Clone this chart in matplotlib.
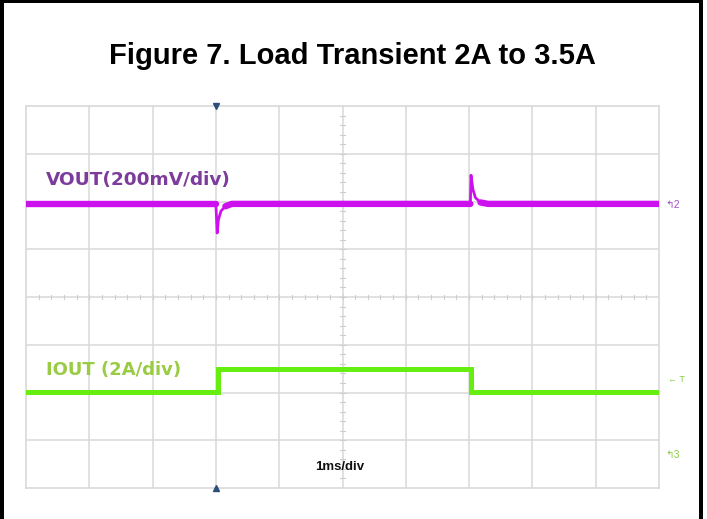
import matplotlib
matplotlib.use("Agg")
import matplotlib.pyplot as plt
from matplotlib.patches import Rectangle
import numpy as np

plt.rcParams['font.family'] = ['Liberation Sans', 'DejaVu Sans']

# ---- data (time in ms = divisions, amplitude in screen divisions) ----
vout_t = [0.0, 3.00, 3.02, 3.04, 3.08, 3.15, 3.25, 7.02, 7.03, 7.06, 7.10, 7.18, 7.30, 10.0]
vout_y = [5.95, 5.95, 5.34, 5.62, 5.80, 5.90, 5.95, 5.95, 6.55, 6.25, 6.08, 5.98, 5.95, 5.95]

iout_t = [0.0, 3.03, 3.03, 7.03, 7.03, 10.0]
iout_y = [2.02, 2.02, 2.50, 2.50, 2.02, 2.02]

title = "Figure 7. Load Transient 2A to 3.5A"
vout_label = "VOUT(200mV/div)"
iout_label = "IOUT (2A/div)"
time_label = "1ms/div"

W, H = 707, 519
fig = plt.figure(figsize=(W / 100, H / 100), dpi=100)

# black frame (left, right, top)
fig.add_artist(Rectangle((0, 0), 4 / W, 1, transform=fig.transFigure, color='black', lw=0))
fig.add_artist(Rectangle((699 / W, 0), 4 / W, 1, transform=fig.transFigure, color='black', lw=0))
fig.add_artist(Rectangle((0, 1 - 3 / H), 703 / W, 3 / H, transform=fig.transFigure, color='black', lw=0))

fig.text(352 / W, 1 - 56 / H, title, ha='center', va='center', fontsize=21, fontweight='bold')

ax = fig.add_axes([26 / W, 1 - 488 / H, (659 - 26) / W, (488 - 106) / H])
ax.set_xlim(0, 10)
ax.set_ylim(0, 8)
ax.set_xticks([])
ax.set_yticks([])
grid_c = '#d9d9d9'
for s in ax.spines.values():
    s.set_color(grid_c)
    s.set_linewidth(1.2)
for x in range(1, 10):
    ax.axvline(x, color=grid_c, lw=1.1, zorder=1)
for y in range(1, 8):
    ax.axhline(y, color=grid_c, lw=1.1, zorder=1)

# centre crosshair minor ticks
tick_c = '#cdcdcd'
for x in np.arange(0.2, 10, 0.2):
    ax.plot([x, x], [4 - 0.05, 4 + 0.05], color=tick_c, lw=0.8, zorder=1)
for y in np.arange(0.2, 8, 0.2):
    ax.plot([5 - 0.035, 5 + 0.035], [y, y], color=tick_c, lw=0.8, zorder=1)

# traces: thin transient edges plus thick noisy-looking baseline band
vc = '#cc10ee'
ax.plot(vout_t, vout_y, color=vc, lw=2.0, solid_joinstyle='round', solid_capstyle='round', zorder=3)
for a, b in [(0, 2), (5, 8), (11, 14)]:
    ax.plot(vout_t[a:b], vout_y[a:b], color=vc, lw=4.6, solid_capstyle='round', zorder=3)
ax.plot(iout_t, iout_y, color='#66ee11', lw=3.6, solid_joinstyle='miter', zorder=3)

# labels
ax.text(0.32, 6.44, vout_label, color='#7d3c9c', fontsize=13.3, fontweight='bold',
        va='center', ha='left', family='DejaVu Sans')
ax.text(0.32, 2.47, iout_label, color='#99cc44', fontsize=13.0, fontweight='bold',
        va='center', ha='left', family='DejaVu Sans')
ax.text(4.96, 0.45, time_label, color='#111111', fontsize=9.5, fontweight='bold', va='center', ha='center')

# trigger markers
ax.plot([3.0], [8.0], marker='v', color='#2a4f7a', ms=5, clip_on=False, zorder=4)
ax.plot([3.0], [0.0], marker='^', color='#2a4f7a', ms=5, clip_on=False, zorder=4)

# channel markers at right
ax.text(10.1, 5.93, "↰2", color='#a050c0', fontsize=7.5, va='center', ha='left', clip_on=False)
ax.text(10.15, 2.27, "← T", color='#88cc44', fontsize=6.5, va='center', ha='left', clip_on=False)
ax.text(10.1, 0.7, "↰3", color='#88cc44', fontsize=7.5, va='center', ha='left', clip_on=False)

fig.savefig("out.png", dpi=100)
